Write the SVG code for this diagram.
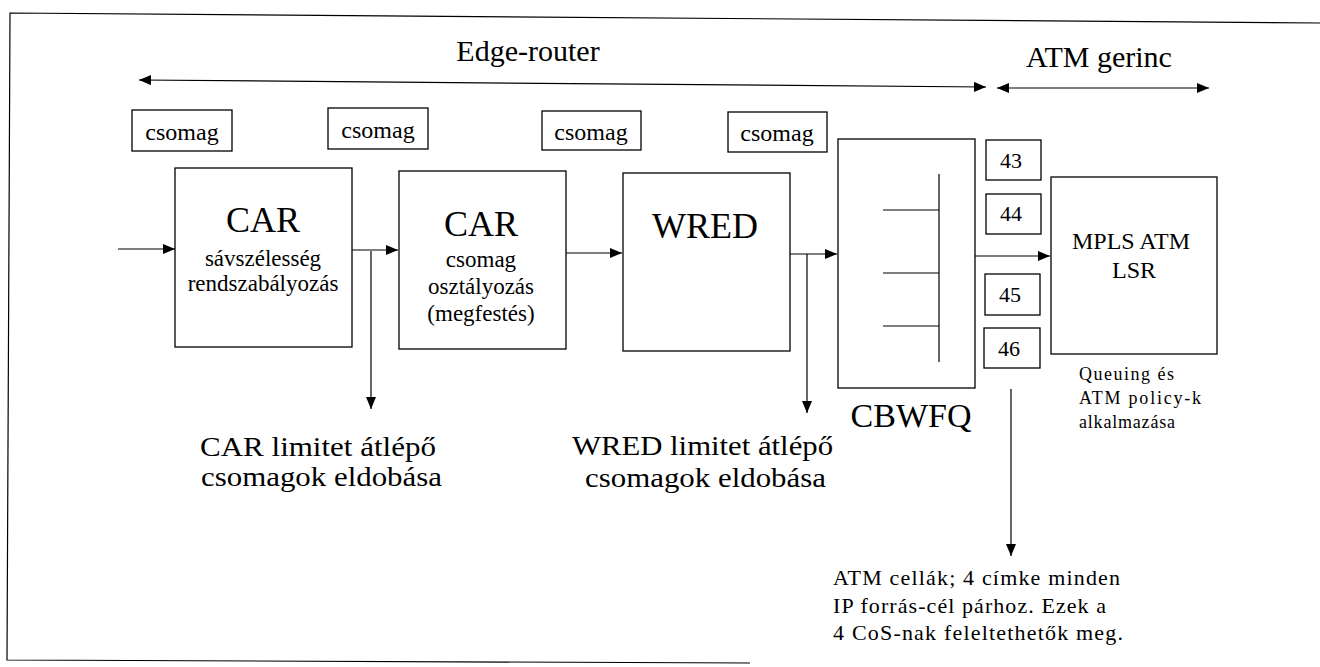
<svg xmlns="http://www.w3.org/2000/svg" width="1320" height="667" viewBox="0 0 1320 667" font-family="'Liberation Serif', 'Times New Roman', serif">
<defs>
<marker id="ah" markerUnits="userSpaceOnUse" markerWidth="13" markerHeight="10" refX="12" refY="5" orient="auto">
<path d="M0,0 L12,5 L0,10 Z" fill="#000"/>
</marker>
<marker id="ahs" markerUnits="userSpaceOnUse" markerWidth="13" markerHeight="10" refX="0" refY="5" orient="auto">
<path d="M12,0 L0,5 L12,10 Z" fill="#000"/>
</marker>
<style>
text{font-family:"Liberation Serif","Times New Roman",serif;fill:#000}
.box{fill:none;stroke:#000;stroke-width:1.3}
.ln{fill:none;stroke:#000;stroke-width:1.2}
.arr{fill:none;stroke:#000;stroke-width:1.2;marker-end:url(#ah)}
.pk{font-size:24px;text-anchor:middle}
.big{font-size:36px;text-anchor:middle}
.mid{font-size:23px;text-anchor:middle}
.num{font-size:22px;text-anchor:middle}
.drop{font-size:28px}
.note{font-size:22px}
.small{font-size:18px}
.title{font-size:30px;text-anchor:middle}
</style>
</defs>
<rect width="1320" height="667" fill="#fff"/>
<g id="frame">
<path class="ln" d="M1320,23 L10,13 L7,660 L750,663" stroke-width="1.5"/>
</g>
<g id="labels">
<text class="title" x="528" y="61">Edge-router</text>
<text class="title" x="1099" y="67">ATM gerinc</text>
</g>
<g id="connectors">
<line class="arr" x1="139" y1="80" x2="986" y2="87" marker-start="url(#ahs)"/>
<line class="arr" x1="997" y1="88" x2="1209" y2="88" marker-start="url(#ahs)"/>
<line class="arr" x1="118" y1="249" x2="175" y2="249"/>
<line class="arr" x1="352" y1="250" x2="398" y2="250"/>
<line class="arr" x1="371" y1="251" x2="371" y2="409"/>
<line class="arr" x1="566" y1="253" x2="622" y2="253"/>
<line class="arr" x1="790" y1="254" x2="837" y2="254"/>
<line class="arr" x1="807" y1="254" x2="807" y2="413"/>
<line class="arr" x1="975" y1="256" x2="1050" y2="256"/>
<line class="arr" x1="1011" y1="389" x2="1011" y2="556"/>
</g>
<g id="csomag1"><rect class="box" x="132" y="110" width="100" height="41"/><text class="pk" x="182" y="140">csomag</text></g>
<g id="csomag2"><rect class="box" x="328" y="108" width="100" height="41"/><text class="pk" x="378" y="138">csomag</text></g>
<g id="csomag3"><rect class="box" x="542" y="111" width="99" height="39"/><text class="pk" x="591" y="140">csomag</text></g>
<g id="csomag4"><rect class="box" x="728" y="112" width="99" height="40"/><text class="pk" x="777" y="141">csomag</text></g>
<g id="car1">
<rect class="box" x="175" y="168" width="177" height="179"/>
<text class="big" x="263" y="232">CAR</text>
<text class="mid" x="263" y="266">sávszélesség</text>
<text class="mid" x="263" y="291">rendszabályozás</text>
</g>
<g id="car2">
<rect class="box" x="399" y="171" width="167" height="178"/>
<text class="big" x="481" y="236">CAR</text>
<text class="mid" x="481" y="267">csomag</text>
<text class="mid" x="481" y="294">osztályozás</text>
<text class="mid" x="481" y="321">(megfestés)</text>
</g>
<g id="wred">
<rect class="box" x="623" y="173" width="167" height="178"/>
<text class="big" x="705" y="238">WRED</text>
</g>
<g id="cbwfq">
<rect class="box" x="838" y="139" width="137" height="249"/>
<path class="ln" d="M939,174 L939,362 M883,210 L939,210 M883,273 L939,273 M883,326 L939,326"/>
<text class="big" x="911" y="427" style="font-size:34px">CBWFQ</text>
</g>
<g id="n43"><rect class="box" x="986" y="140" width="55" height="40"/><text class="num" x="1011" y="168">43</text></g>
<g id="n44"><rect class="box" x="986" y="194" width="55" height="40"/><text class="num" x="1011" y="221">44</text></g>
<g id="n45"><rect class="box" x="985" y="274" width="55" height="41"/><text class="num" x="1010" y="302">45</text></g>
<g id="n46"><rect class="box" x="984" y="328" width="56" height="40"/><text class="num" x="1009" y="356">46</text></g>
<g id="mpls">
<rect class="box" x="1051" y="177" width="166" height="177"/>
<text class="num" x="1131" y="249" style="font-size:24px">MPLS ATM</text>
<text class="num" x="1134" y="278" style="font-size:24px">LSR</text>
<text class="small" x="1079" y="380" textLength="95" lengthAdjust="spacing">Queuing és</text>
<text class="small" x="1079" y="404" textLength="122" lengthAdjust="spacing">ATM policy-k</text>
<text class="small" x="1079" y="428" textLength="96" lengthAdjust="spacing">alkalmazása</text>
</g>
<g id="drop-car">
<text class="drop" x="200" y="456" textLength="236" lengthAdjust="spacingAndGlyphs">CAR limitet átlépő</text>
<text class="drop" x="201" y="486" textLength="241" lengthAdjust="spacingAndGlyphs">csomagok eldobása</text>
</g>
<g id="drop-wred">
<text class="drop" x="572" y="455" textLength="261" lengthAdjust="spacingAndGlyphs">WRED limitet átlépő</text>
<text class="drop" x="585" y="487" textLength="241" lengthAdjust="spacingAndGlyphs">csomagok eldobása</text>
</g>
<g id="atm-note">
<text class="note" x="833" y="585" textLength="287" lengthAdjust="spacing">ATM cellák; 4 címke minden</text>
<text class="note" x="833" y="613" textLength="273" lengthAdjust="spacing">IP forrás-cél párhoz. Ezek a</text>
<text class="note" x="833" y="640" textLength="290" lengthAdjust="spacing">4 CoS-nak feleltethetők meg.</text>
</g>
</svg>
